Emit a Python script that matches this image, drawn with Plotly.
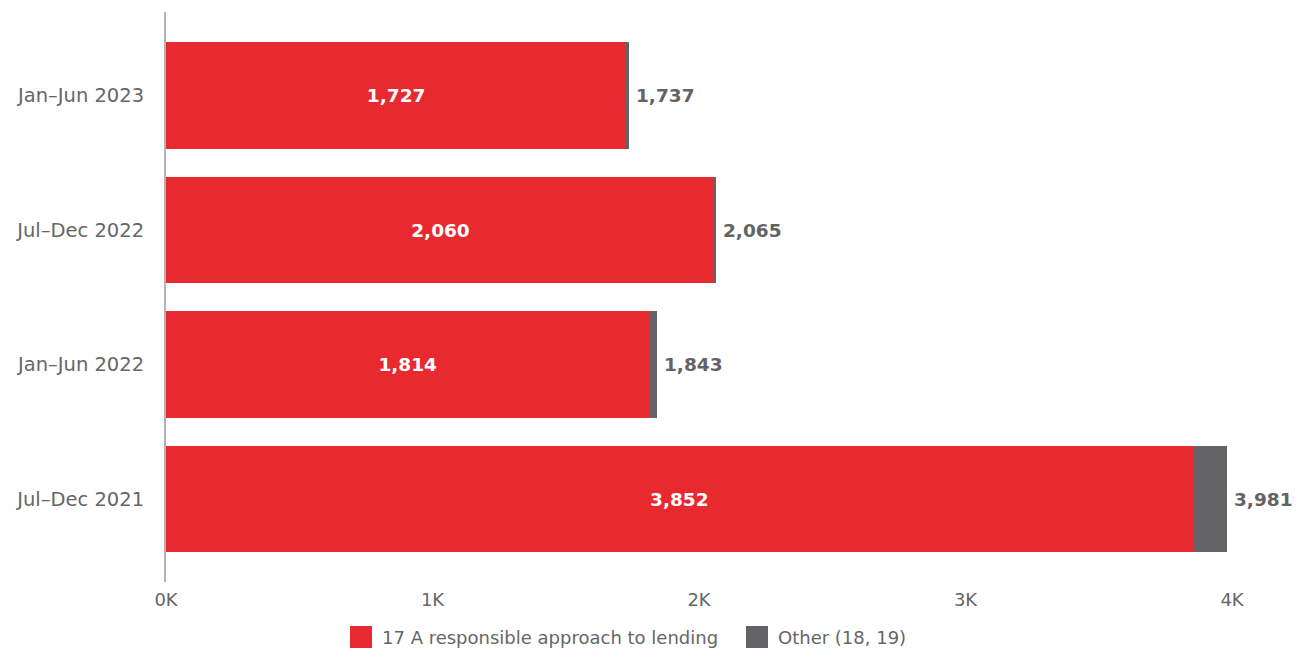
import plotly.graph_objects as go

# Complaint counts by reporting period
periods = ["Jul–Dec 2021", "Jan–Jun 2022", "Jul–Dec 2022", "Jan–Jun 2023"]
lending = [3852, 1814, 2060, 1727]
other = [129, 29, 5, 10]
totals = [a + b for a, b in zip(lending, other)]

tick_vals = [0, 1000, 2000, 3000, 4000]
tick_text = ["0K", "1K", "2K", "3K", "4K"]

series_names = ["17 A responsible approach to lending", "Other (18, 19)"]

RED = "#E8292F"
GREY = "#636366"
TEXT = "#666666"
FONT = "DejaVu Sans, sans-serif"

fig = go.Figure()
fig.add_trace(go.Bar(
    y=periods, x=lending, orientation="h", name=series_names[0],
    marker=dict(color=RED, line=dict(width=0)),
    text=[f"{v:,}" for v in lending], textposition="inside", insidetextanchor="middle",
    textfont=dict(color="white", size=18.5, family=FONT, weight="bold"),
    hoverinfo="skip", showlegend=False,
))
fig.add_trace(go.Bar(
    y=periods, x=other, orientation="h", name=series_names[1],
    marker=dict(color=GREY, line=dict(width=0)),
    hoverinfo="skip", showlegend=False,
))

# Stack totals to the right of each bar
for p, t in zip(periods, totals):
    fig.add_annotation(
        x=t, y=p, text=f"<b>{t:,}</b>", showarrow=False,
        xanchor="left", yanchor="middle", xshift=5,
        font=dict(color=GREY, size=18.5, family=FONT),
    )

# Legend row drawn below the axis
legend_items = [(series_names[0], RED, 350), (series_names[1], GREY, 746)]
W = 1066.0
H = 570.0
for name, color, px in legend_items:
    fig.add_shape(
        type="rect", xref="paper", yref="paper",
        x0=(px - 166) / W, x1=(px + 22 - 166) / W,
        y0=(582 - 648) / H, y1=(582 - 626) / H,
        fillcolor=color, line=dict(width=0),
    )
    fig.add_annotation(
        xref="paper", yref="paper", x=(px + 30 - 166) / W, y=(582 - 637) / H,
        text=name, showarrow=False, xanchor="left", yanchor="middle",
        font=dict(color=TEXT, size=18, family=FONT),
    )

fig.update_layout(
    barmode="stack",
    bargap=0.21,
    width=1304, height=652,
    margin=dict(l=166, r=72, t=12, b=70, autoexpand=False),
    paper_bgcolor="white", plot_bgcolor="white",
    font=dict(family=FONT, size=18, color=TEXT),
    showlegend=False,
    xaxis=dict(range=[0, 4000], tickvals=tick_vals, ticktext=tick_text,
               showgrid=False, zeroline=False, showline=False, ticks="",
               ticklabelstandoff=5,
               tickfont=dict(size=18, color=TEXT)),
    yaxis=dict(range=[-0.615, 3.62], showgrid=False, zeroline=False,
               showline=True, linecolor="#b3b3b3", linewidth=2, ticks="",
               ticklabelstandoff=16,
               tickfont=dict(size=19.5, color=TEXT)),
)

fig.write_html("out.html")
